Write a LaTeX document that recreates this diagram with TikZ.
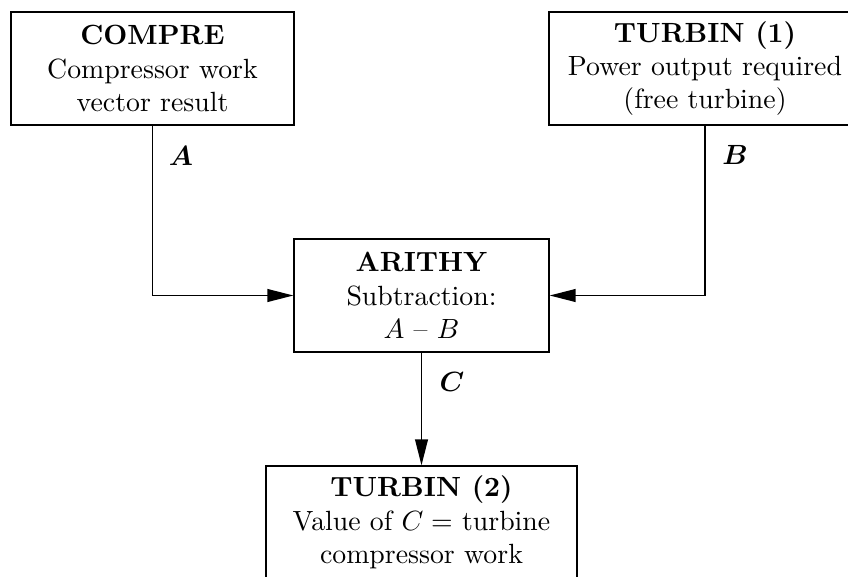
\documentclass[tikz,border=0pt]{standalone}
\usepackage{amsmath}
\usetikzlibrary{arrows.meta}
\begin{document}
\begin{tikzpicture}[x=0.3597pt, y=-0.3597pt,
  block/.style={draw, line width=0.5pt, align=center, minimum height=40.65pt, inner sep=2pt},
  arr/.style={draw, line width=0.5pt, -{Triangle[length=9.3pt,width=4.6pt]}},
  lbl/.style={inner sep=0pt}]
\useasboundingbox (0,0) rectangle (848,576);

% program blocks
\node[block, minimum width=101.8pt] (compre) at (152.5,68.5)
  {\textbf{COMPRE}\\Compressor work\\vector result};
\node[block, minimum width=112.2pt] (turbA) at (705,68.5)
  {\textbf{TURBIN (1)}\\Power output required\\(free turbine)};
\node[block, minimum width=91.7pt] (arithy) at (421.5,295.5)
  {\textbf{ARITHY}\\Subtraction:\\$A$ -- $B$};
\node[block, minimum width=111.9pt] (turbB) at (421.5,522.5)
  {\textbf{TURBIN (2)}\\Value of $C =$ turbine\\compressor work};

% data flow
\draw[arr] (compre.south) |- (arithy.west);
\draw[arr] (turbA.south) |- (arithy.east);
\draw[arr] (arithy.south) -- (turbB.north);

% signal labels
\node[lbl] (la) at (181,156) {$\boldsymbol{A}$};
\node[lbl] (lb) at (735,155) {$\boldsymbol{B}$};
\node[lbl] (lc) at (452,381.5) {$\boldsymbol{C}$};
\end{tikzpicture}
\end{document}
